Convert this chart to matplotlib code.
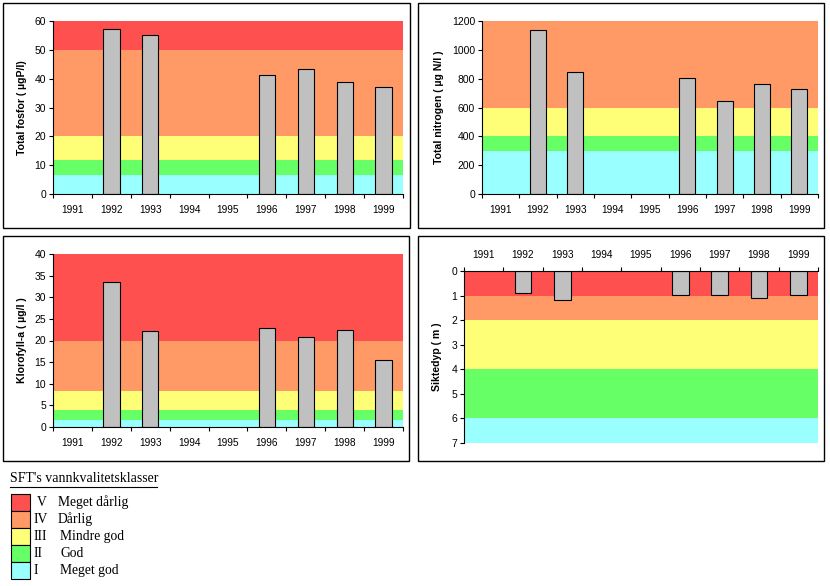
import numpy as np
import matplotlib.pyplot as plt
from matplotlib.patches import Rectangle

plt.rcParams['font.family'] = ['Liberation Sans', 'DejaVu Sans']

years = ['1991', '1992', '1993', '1994', '1995', '1996', '1997', '1998', '1999']
measured = ['1992', '1993', '1996', '1997', '1998', '1999']

fosfor = [57.2, 55.1, 41.3, 43.2, 38.8, 37.0]
nitrogen = [1136, 845, 803, 644, 762, 727]
klorofyll = [33.5, 22.1, 22.8, 20.7, 22.4, 15.6]
siktedyp = [0.90, 1.18, 0.99, 0.99, 1.10, 0.99]

# class limits, from class I (best) upwards
fosfor_limits = [0, 6.7, 11.8, 20, 50, 60]
nitrogen_limits = [0, 295, 400, 600, 1200]
klorofyll_limits = [0, 1.6, 3.9, 8.3, 20, 40]
sikt_limits = [7, 6, 4, 2, 1, 0]

class_colors = ['#99FFFF', '#66FF66', '#FFFF77', '#FF9966', '#FF5050']
class_numerals = ['I', 'II', 'III', 'IV', 'V']
class_names = ['Meget god', 'God', 'Mindre god', 'Dårlig', 'Meget dårlig']

W, H = 830, 586
fig = plt.figure(figsize=(W / 100, H / 100), dpi=100)


def px_axes(x0, y0, x1, y1):
    return fig.add_axes([x0 / W, 1 - y1 / H, (x1 - x0) / W, (y1 - y0) / H])


def frame(x0, y0, x1, y1):
    fig.patches.append(Rectangle((x0 / W, 1 - y1 / H), (x1 - x0) / W, (y1 - y0) / H,
                                 transform=fig.transFigure, fill=False,
                                 edgecolor='black', linewidth=1.0))


def panel(ax, values, limits, ymax, ystep, label, labelx, inverted=False):
    for i in range(len(limits) - 1):
        lo, hi = sorted([limits[i], limits[i + 1]])
        ax.axhspan(lo, hi, color=class_colors[i], zorder=0, linewidth=0)
    x = [years.index(y) for y in measured]
    ax.bar(x, values, width=0.42, color='#C0C0C0', edgecolor='black',
           linewidth=0.8, zorder=2)
    ax.set_xlim(-0.5, len(years) - 0.5)
    ax.set_xticks(np.arange(-0.5, len(years)), minor=False)
    ax.set_xticklabels([])
    ax.set_xticks(np.arange(len(years)), minor=True)
    ax.set_xticklabels(years, minor=True)
    ax.tick_params(axis='x', which='minor', length=0, labelsize=7.3, pad=8)
    ax.tick_params(axis='x', which='major', length=3, width=0.8)
    ax.set_yticks(np.arange(0, ymax + ystep / 2, ystep))
    ax.tick_params(axis='y', length=3, width=0.8, labelsize=7.5, pad=2)
    if inverted:
        ax.set_ylim(ymax, 0)
        ax.xaxis.tick_top()
        ax.tick_params(axis='x', which='minor', length=0, pad=8)
    else:
        ax.set_ylim(0, ymax)
    for s in ['top', 'right']:
        ax.spines[s].set_visible(False)
    if inverted:
        ax.spines['top'].set_visible(True)
        ax.spines['bottom'].set_visible(False)
    for s in ax.spines.values():
        s.set_linewidth(0.8)
    ax.set_ylabel(label, fontsize=7.6, fontweight='bold')
    ax.yaxis.set_label_coords(labelx, 0.5)


frame(3, 3, 410, 228)
frame(418, 3, 824, 228)
frame(3, 236, 409, 461)
frame(418, 236, 824, 461)

ax1 = px_axes(53, 21, 403, 194)
panel(ax1, fosfor, fosfor_limits, 60, 10, 'Total fosfor ( µgP/l)', -0.074)

ax2 = px_axes(482, 21, 818, 194)
panel(ax2, nitrogen, nitrogen_limits, 1200, 200, 'Total nitrogen ( µg N/l )', -0.113)

ax3 = px_axes(53, 254, 403, 427)
panel(ax3, klorofyll, klorofyll_limits, 40, 5, 'Klorofyll-a ( µg/l )', -0.074)

ax4 = px_axes(464, 271, 818, 443)
panel(ax4, siktedyp, sikt_limits, 7, 1, 'Siktedyp ( m )', -0.063, inverted=True)

# legend of water quality classes
serif = ['Liberation Serif', 'DejaVu Serif']
fig.text(10 / W, 1 - 479 / H, "SFT's vannkvalitetsklasser", family=serif,
         fontsize=10, va='center', ha='left')
fig.add_artist(plt.Line2D([10 / W, 157 / W], [1 - 487 / H, 1 - 487 / H],
                          color='black', linewidth=0.8, transform=fig.transFigure))
box_top = 494
box_h = 17
for k in range(5):
    i = 4 - k
    y0 = box_top + k * box_h
    fig.patches.append(Rectangle((11 / W, 1 - (y0 + box_h) / H), 19 / W, box_h / H,
                                 transform=fig.transFigure, facecolor=class_colors[i],
                                 edgecolor='black', linewidth=0.8))
    yc = 1 - (y0 + box_h / 2) / H
    fig.text((37 if i == 4 else 34) / W, yc, class_numerals[i], family=serif,
             fontsize=9.8, va='center', ha='left')
    fig.text((58 if i >= 3 else 60) / W, yc, class_names[i], family=serif,
             fontsize=9.8, va='center', ha='left')

fig.savefig('out.png', dpi=100)
